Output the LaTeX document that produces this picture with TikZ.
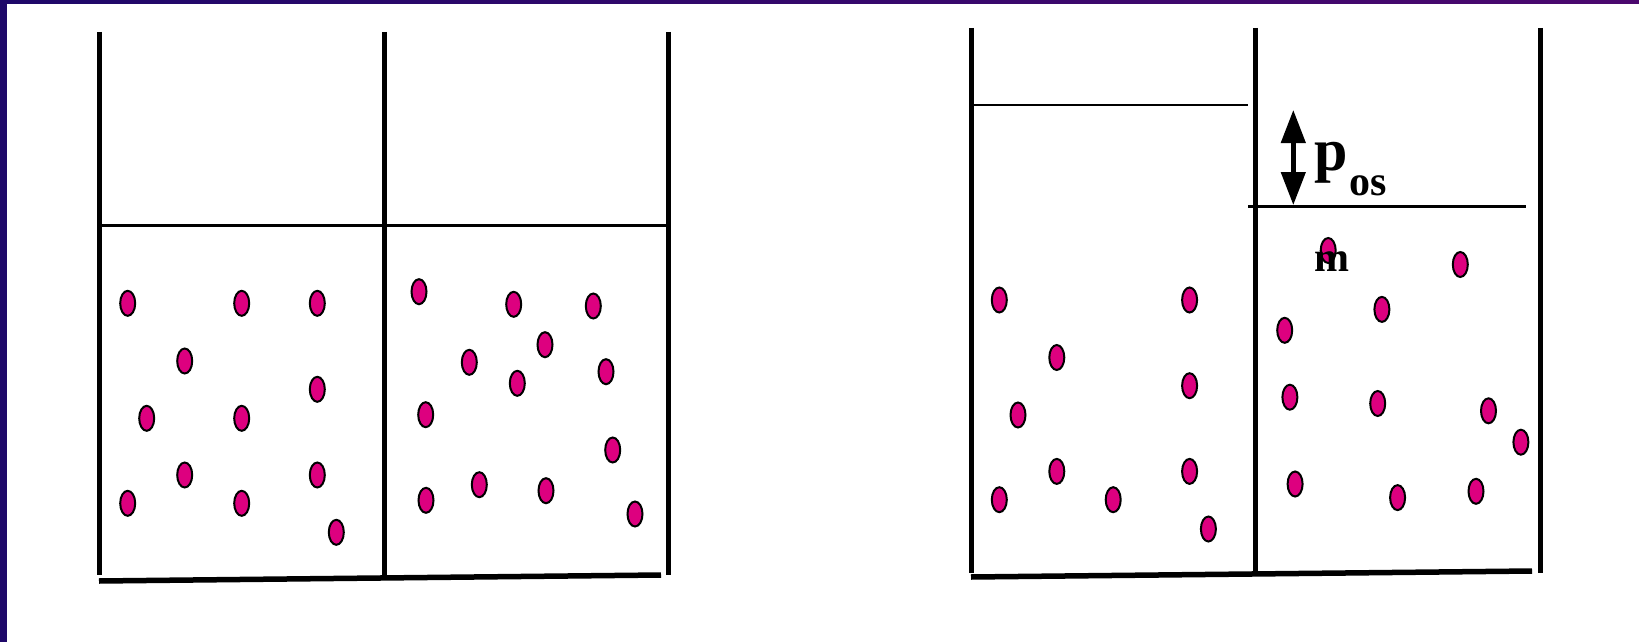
\documentclass[tikz,border=0pt]{standalone}
\usepackage{fontspec}
\setmainfont{Liberation Serif}
\usetikzlibrary{arrows.meta,shapes.geometric}
\definecolor{dotfill}{RGB}{221,0,127}
\definecolor{frameblue}{RGB}{30,8,105}
\definecolor{framepurple}{RGB}{75,8,110}
\begin{document}
\begin{tikzpicture}[x=1pt,y=-1pt,
  wall/.style={line width=5pt},
  level/.style={line width=2.5pt},
  basebar/.style={line width=5.5pt},
  particle/.style={ellipse, draw=black, line width=2pt, fill=dotfill,
    minimum width=15pt, minimum height=25pt, inner sep=0pt},
  biglbl/.style={inner sep=0pt, anchor=base west, font=\fontsize{60}{70}\selectfont\bfseries},
  smalllbl/.style={inner sep=0pt, anchor=base west, font=\fontsize{42}{50}\selectfont\bfseries},
  dblarrow/.style={line width=4.5pt, {Triangle[width=24pt,length=33pt]}-{Triangle[width=24pt,length=33pt]}}]
\useasboundingbox (0,0) rectangle (1639,642);
\fill[white] (0,0) rectangle (1639,642);
\fill[frameblue] (0,0) rectangle (7,642);
\shade[left color=frameblue,right color=framepurple] (0,0) rectangle (1639,4);

% ---------- left vessel ----------
\draw[wall] (99.3,32) -- (99.3,575);
\draw[wall] (384,32) -- (384,575);
\draw[wall] (668.8,32) -- (668.8,575);
\draw[level] (99,225.7) -- (666,225.7);
\draw[basebar] (99,581) -- (661,575);

\foreach \x/\y [count=\i] in {127.7/303.3, 241.7/303.3, 317.3/303.3, 184.7/361,
  317.3/389.3, 146.7/418.3, 241.7/418.3, 184.7/475, 317.3/475, 127.7/503.3,
  241.7/503.3, 336.3/532.3}
  \node[particle] (a\i) at (\x,\y) {};

\foreach \x/\y [count=\i] in {419/291.7, 513.7/304.3, 593.3/306, 545/344.7,
  469.3/362.3, 606/371.7, 517.3/383.3, 425.7/414.7, 612.7/450, 479.3/484.7,
  426/500.3, 546/490.7, 635/514}
  \node[particle] (b\i) at (\x,\y) {};

% ---------- right vessel ----------
\draw[wall] (971,28) -- (971,573);
\draw[wall] (1255.7,28) -- (1255.7,573);
\draw[wall] (1540.8,28) -- (1540.8,573);
\draw[level] (970,105) -- (1247.7,105);
\draw[level] (1248,206.5) -- (1525.7,206.5);
\draw[basebar] (971,577) -- (1532,571);

\foreach \x/\y [count=\i] in {999.3/300, 1189.6/300, 1056.8/357.5, 1018/415,
  1189.6/385.7, 1056.8/471.4, 999.3/499.7, 1113.2/499.7, 1189.6/471.4, 1208.4/529}
  \node[particle] (c\i) at (\x,\y) {};

\foreach \x/\y [count=\i] in {1328.2/250.5, 1460.3/264.5, 1381.9/309.4, 1284.7/330.3,
  1289.9/397.2, 1377.7/403.5, 1488.5/410.8, 1520.9/442.2, 1295.1/484,
  1397.6/497.6, 1476/491.3}
  \node[particle] (e\i) at (\x,\y) {};

% ---------- osmotic pressure ----------
\coordinate (arrtop) at (1293.3,110);
\coordinate (arrbot) at (1293.3,205);
\draw[dblarrow] (arrtop) -- (arrbot);
\node[biglbl] (p) at (1314,170) {p};
\node[smalllbl] (os) at (1349,195) {os};
\node[smalllbl] (m) at (1314,271.7) {m};
\end{tikzpicture}
\end{document}
